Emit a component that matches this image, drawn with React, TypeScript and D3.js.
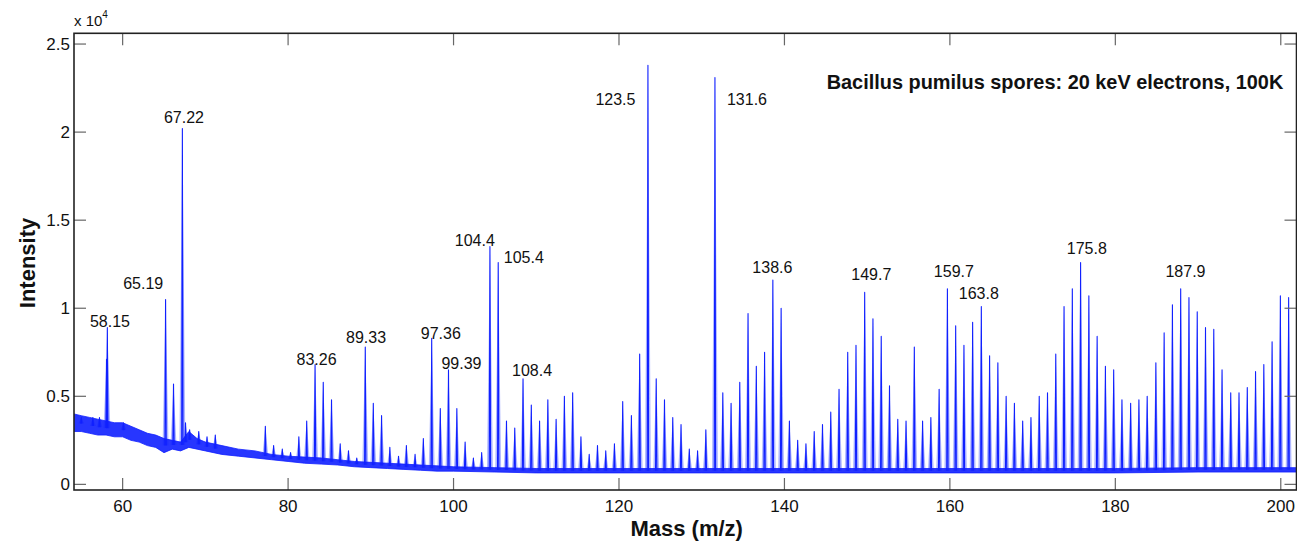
import React from 'react';
import * as d3 from 'd3';

// peak list: mass (m/z) and top intensity (x 10^4)
const peakMass = [
  55.0, 56.4, 57.2, 58.05, 58.15, 60.1, 65.19, 66.15, 67.22, 67.6, 68.1, 69.2, 70.2, 71.2,
  77.25, 78.25, 79.3, 80.3, 81.3, 82.25, 83.26, 84.25, 85.25, 86.3, 87.3, 88.3, 89.33, 90.3,
  91.3, 92.3, 93.35, 94.3, 95.35, 96.35, 97.36, 98.4, 99.39, 100.4, 101.4, 102.4, 103.4,
  104.4, 105.4, 106.4, 107.4, 108.4, 109.4, 110.4, 111.4, 112.4, 113.4, 114.4, 115.4, 116.4,
  117.4, 118.4, 119.45, 120.45, 121.5, 122.5, 123.5, 124.5, 125.5, 126.5, 127.5, 128.5,
  129.5, 130.5, 131.6, 132.55, 133.55, 134.6, 135.6, 136.6, 137.6, 138.6, 139.6, 140.6,
  141.6, 142.6, 143.6, 144.6, 145.6, 146.6, 147.65, 148.65, 149.7, 150.7, 151.7, 152.7,
  153.7, 154.7, 155.7, 156.7, 157.7, 158.7, 159.7, 160.7, 161.7, 162.75, 163.8, 164.8,
  165.8, 166.8, 167.8, 168.8, 169.8, 170.8, 171.8, 172.8, 173.8, 174.8, 175.8, 176.8,
  177.8, 178.8, 179.8, 180.8, 181.85, 182.85, 183.85, 184.9, 185.9, 186.9, 187.9, 188.9,
  189.9, 190.9, 191.9, 192.9, 193.95, 194.95, 195.95, 196.95, 197.95, 198.95, 199.95, 200.95,
];
const peakHeight = [
  0.38, 0.38, 0.38, 0.71, 0.89, 0.35, 1.05, 0.57, 2.02, 0.35, 0.31, 0.30, 0.27, 0.28,
  0.33, 0.22, 0.20, 0.18, 0.27, 0.36, 0.68, 0.58, 0.48, 0.23, 0.19, 0.15, 0.78, 0.46,
  0.39, 0.21, 0.16, 0.22, 0.17, 0.26, 0.83, 0.43, 0.65, 0.43, 0.24, 0.15, 0.18,
  1.35, 1.26, 0.36, 0.32, 0.60, 0.45, 0.36, 0.48, 0.37, 0.50, 0.52, 0.27, 0.17,
  0.22, 0.19, 0.23, 0.47, 0.39, 0.74, 2.38, 0.60, 0.48, 0.38, 0.34, 0.20,
  0.19, 0.31, 2.31, 0.52, 0.46, 0.58, 0.97, 0.67, 0.75, 1.16, 1.00, 0.36,
  0.25, 0.23, 0.30, 0.34, 0.41, 0.54, 0.75, 0.79, 1.09, 0.94, 0.84, 0.56,
  0.37, 0.36, 0.78, 0.36, 0.38, 0.54, 1.11, 0.90, 0.79, 0.92, 1.01, 0.73,
  0.69, 0.50, 0.46, 0.36, 0.38, 0.50, 0.52, 0.74, 1.01, 1.11, 1.26, 1.07,
  0.84, 0.67, 0.65, 0.48, 0.46, 0.48, 0.50, 0.69, 0.86, 1.02, 1.11, 1.06,
  0.98, 0.89, 0.88, 0.65, 0.52, 0.52, 0.55, 0.64, 0.68, 0.81, 1.07, 1.06,
];

// noisy baseline band (lower / upper edge)
const baseMass = [54.1, 55, 56, 57, 58, 59, 60, 61, 62, 63, 64, 65, 66, 67, 68, 69, 70, 72, 74, 76, 78, 80, 82, 84, 86, 88, 90, 92, 94, 96, 98, 100, 105, 110, 120, 130, 140, 150, 160, 170, 180, 190, 201.9];
const baseLow = [0.30, 0.30, 0.29, 0.28, 0.28, 0.27, 0.27, 0.25, 0.24, 0.22, 0.21, 0.18, 0.20, 0.19, 0.21, 0.20, 0.19, 0.17, 0.16, 0.15, 0.14, 0.13, 0.12, 0.115, 0.11, 0.10, 0.095, 0.09, 0.085, 0.08, 0.075, 0.075, 0.07, 0.065, 0.065, 0.065, 0.065, 0.065, 0.065, 0.065, 0.065, 0.07, 0.07];
const baseHigh = [0.40, 0.39, 0.38, 0.37, 0.36, 0.35, 0.35, 0.33, 0.31, 0.29, 0.28, 0.26, 0.25, 0.24, 0.30, 0.26, 0.24, 0.22, 0.20, 0.19, 0.17, 0.16, 0.155, 0.15, 0.14, 0.13, 0.125, 0.12, 0.115, 0.11, 0.105, 0.10, 0.095, 0.09, 0.09, 0.09, 0.09, 0.09, 0.09, 0.09, 0.09, 0.095, 0.095];

// peak annotations, placed in data coordinates
const labelText = ['58.15', '65.19', '67.22', '83.26', '89.33', '97.36', '99.39', '104.4', '105.4', '108.4', '123.5', '131.6', '138.6', '149.7', '159.7', '163.8', '175.8', '187.9'];
const labelMass = [58.47, 62.49, 67.41, 83.44, 89.43, 98.46, 100.96, 102.57, 108.49, 109.49, 119.57, 135.47, 138.54, 150.5, 160.48, 163.5, 176.55, 188.48];
const labelValue = [0.927, 1.139, 2.082, 0.709, 0.833, 0.857, 0.689, 1.386, 1.287, 0.645, 2.187, 2.187, 1.232, 1.189, 1.208, 1.084, 1.337, 1.208];

const xTicks = [60, 80, 100, 120, 140, 160, 180, 200];
const yTicks = [0, 0.5, 1, 1.5, 2, 2.5];
const yTickLabels = ['0', '0.5', '1', '1.5', '2', '2.5'];

const title = 'Bacillus pumilus spores: 20 keV electrons, 100K';

const W = 1297;
const H = 545;
const left = 74;
const right = 1296.5;
const top = 33.3;
const bottom = 490;
const FONT = '"Liberation Sans", Arial, Helvetica, sans-serif';
const BLUE = '#1020ff';

export default function App() {
  const x = d3.scaleLinear().domain([54.12, 201.9]).range([left, right]);
  const y = d3.scaleLinear().domain([-0.032, 2.561]).range([bottom, top]);

  const baseMid = baseLow.map((v, i) => (v + baseHigh[i]) / 2);
  const foot = d3.scaleLinear().domain(baseMass).range(baseMid).clamp(true);

  const band = d3
    .area<number>()
    .x((_, i) => x(baseMass[i]))
    .y0((_, i) => y(baseLow[i]))
    .y1((_, i) => y(baseHigh[i]));

  // each peak: a pale body plus a thin saturated core
  const hw = 0.36;
  const peakFill = peakMass
    .map((m, i) => {
      const b = foot(m);
      return `M${x(m - hw)},${y(b)}L${x(m)},${y(peakHeight[i])}L${x(m + hw)},${y(b)}Z`;
    })
    .join('');
  const peakLine = peakMass
    .map((m, i) => {
      const b = foot(m);
      return `M${x(m - 0.08)},${y(b)}L${x(m)},${y(peakHeight[i])}L${x(m + 0.08)},${y(b)}`;
    })
    .join('');

  const tickLen = 12;

  return (
    <svg width={W} height={H} style={{ position: 'absolute', left: 0, top: 0, background: '#fff' }} fontFamily={FONT}>
      <defs>
        <clipPath id="plot">
          <rect x={left} y={top} width={right - left} height={bottom - top} />
        </clipPath>
      </defs>

      <g clipPath="url(#plot)">
        <path d={peakFill} fill="#a2acff" fillOpacity={0.85} stroke="none" />
        <path d={band(baseMass) || ''} fill={BLUE} fillOpacity={0.9} stroke={BLUE} strokeWidth={0.8} />
        <path d={peakLine} fill="none" stroke={BLUE} strokeWidth={1.1} strokeLinejoin="round" />
      </g>

      {/* ticks, inward on all four sides */}
      <g stroke="#666" strokeWidth={1.2}>
        {xTicks.map((t) => (
          <g key={`xt${t}`}>
            <line x1={x(t)} x2={x(t)} y1={bottom} y2={bottom - tickLen} />
            <line x1={x(t)} x2={x(t)} y1={top} y2={top + tickLen} />
          </g>
        ))}
        {yTicks.map((t) => (
          <g key={`yt${t}`}>
            <line x1={left} x2={left + tickLen} y1={y(t)} y2={y(t)} />
            <line x1={right} x2={right - tickLen} y1={y(t)} y2={y(t)} />
          </g>
        ))}
      </g>

      <rect x={left} y={top} width={right - left} height={bottom - top} fill="none" stroke="#222" strokeWidth={1.6} />

      <g fontSize={17} fill="#111">
        {xTicks.map((t) => (
          <text key={`xl${t}`} x={x(t)} y={506} textAnchor="middle" dominantBaseline="central">
            {t}
          </text>
        ))}
        {yTicks.map((t, i) => (
          <text key={`yl${t}`} x={70} y={y(t)} textAnchor="end" dominantBaseline="central">
            {yTickLabels[i]}
          </text>
        ))}
      </g>

      <text x={74} y={26} fontSize={15} fill="#111">
        x 10
        <tspan fontSize={10} dy={-8}>4</tspan>
      </text>

      <text
        transform="translate(27,263) rotate(-90)"
        textAnchor="middle"
        dominantBaseline="central"
        fontSize={22}
        fontWeight="bold"
        fill="#111"
      >
        Intensity
      </text>
      <text x={686.7} y={536} textAnchor="middle" fontSize={22} fontWeight="bold" fill="#111">
        Mass (m/z)
      </text>

      <text x={826.7} y={89} fontSize={19.9} fontWeight="bold" fill="#111">
        {title}
      </text>

      <g fontSize={16} fill="#111">
        {labelText.map((t, i) => (
          <text key={t} x={x(labelMass[i])} y={y(labelValue[i])} textAnchor="middle" dominantBaseline="central">
            {t}
          </text>
        ))}
      </g>
    </svg>
  );
}
